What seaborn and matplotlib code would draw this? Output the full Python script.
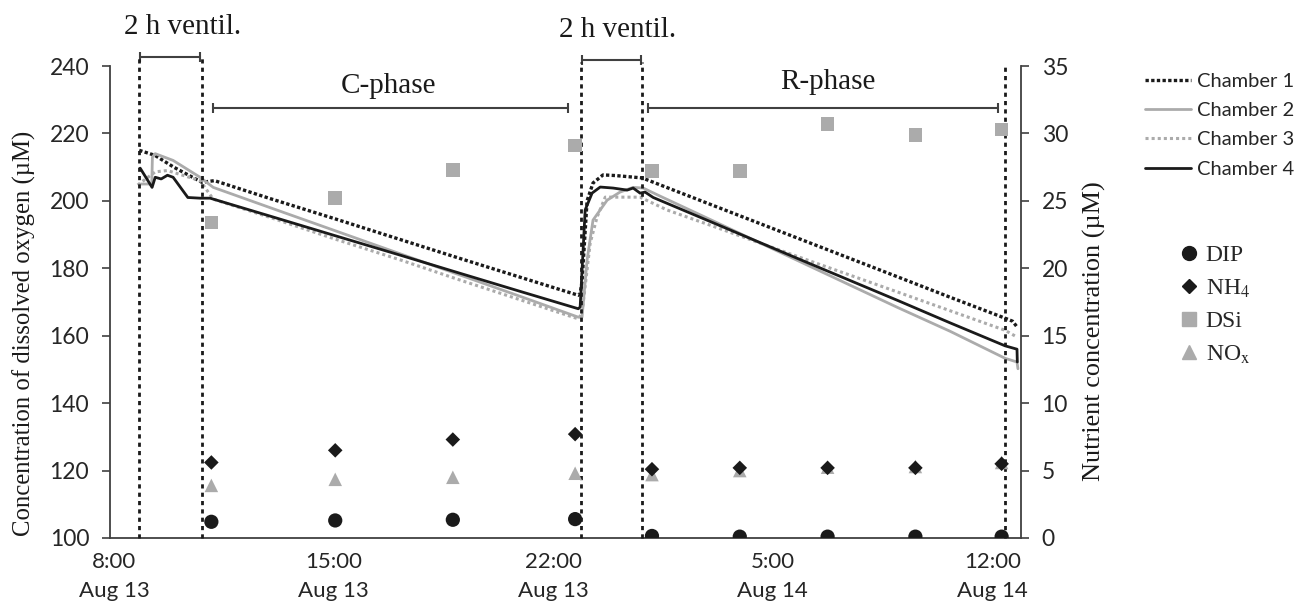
import matplotlib
matplotlib.use('Agg')
import matplotlib.pyplot as plt
from matplotlib.lines import Line2D
import seaborn as sns

# 时间单位: 小时 (从 Aug 13 00:00 起)
t_ch1 = [8.80, 9.3, 9.9, 10.6, 10.8, 11.2, 13.0, 15.0, 17.1, 19.0, 21.0, 22.8, 22.86, 22.92, 23.08,
         23.27, 23.59, 24.0, 24.84, 27.0, 30.0, 33.0, 34.66, 36.41, 36.65, 36.8]
o2_ch1 = [215, 213.5, 210, 206.5, 205.5, 206, 200.6, 194.8, 188.6, 183, 177.2, 172, 172.5, 176, 200,
          205.3, 207.7, 207.5, 206.8, 199, 188.2, 177.4, 171.4, 165.2, 164.3, 162.5]

t_ch2 = [8.85, 9.2, 9.22, 9.31, 9.88, 10.74, 11.16, 13.0, 15.0, 17.12, 19.0, 21.0, 22.8, 22.92, 23.08,
         23.27, 23.72, 24.13, 24.55, 24.87, 25.41, 27.0, 30.0, 33.0, 34.66, 36.41, 36.79, 36.82]
o2_ch2 = [205, 205, 213, 214, 212, 207, 204, 197.9, 191.3, 184.3, 178.1, 171.5, 165.5, 165.5, 182.4,
          194.3, 200.2, 202.6, 204, 203.8, 201.4, 194.5, 181.4, 168.3, 161.3, 153.3, 152.2, 150.2]

t_ch3 = [8.75, 9.31, 9.7, 10.74, 11.16, 13.0, 15.0, 17.12, 19.0, 21.0, 22.8, 22.92, 23.18, 23.40,
         23.66, 24.77, 25.63, 27.0, 30.0, 33.0, 34.66, 36.41, 36.79]
o2_ch3 = [204.7, 208.6, 209, 206, 200.5, 195, 188.8, 182.5, 176.6, 170.5, 165, 166.7, 187.5, 195.2,
          201.1, 201.1, 197.3, 192.8, 182.8, 172.9, 167.4, 161.6, 159.6]

t_ch4 = [8.83, 9.21, 9.31, 9.5, 9.7, 9.88, 10.35, 10.74, 11.06, 13.0, 15.0, 17.12, 19.0, 21.0, 22.8,
         22.86, 23.02, 23.24, 23.5, 23.91, 24.36, 24.55, 24.77, 24.93, 25.19, 27.0, 30.0, 33.0, 34.66,
         36.41, 36.79, 36.8]
o2_ch4 = [209.7, 204, 207, 206.5, 207.6, 207, 201, 200.8, 200.8, 195.4, 189.8, 183.9, 178.6, 173, 168,
          168.5, 197.3, 202.3, 204.1, 203.8, 203.2, 203.8, 202.3, 202.6, 201, 193.9, 182.1, 170.4, 163.8,
          157, 156, 152.2]

# 营养盐采样 (右轴)
sample_t = [11.1, 15.05, 18.8, 22.7, 25.15, 27.95, 30.75, 33.55, 36.3]
dip = [1.2, 1.3, 1.35, 1.4, 0.15, 0.1, 0.1, 0.1, 0.1]
nh4 = [5.6, 6.5, 7.3, 7.7, 5.1, 5.2, 5.2, 5.2, 5.5]
dsi = [23.4, 25.2, 27.3, 29.1, 27.2, 27.2, 30.7, 29.9, 30.3]
nox = [3.9, 4.35, 4.5, 4.8, 4.7, 5.0, 5.25, 5.3, 5.6]

tick_hours = [8, 15, 22, 29, 36]
tick_labels = ['8:00\nAug 13', '15:00\nAug 13', '22:00\nAug 13', '5:00\nAug 14', '12:00\nAug 14']

black = '#1a1a1a'
grey = '#ababab'
axcol = '#404040'

sns.set_style('white')
plt.rcParams['font.family'] = ['Lato', 'DejaVu Sans']
plt.rcParams['mathtext.fontset'] = 'stix'
serif = ['Liberation Serif', 'DejaVu Serif']

fig = plt.figure(figsize=(13.01, 6.04), dpi=100)
ax = fig.add_axes([0.0846, 0.1093, 0.7, 0.7814])
ax2 = ax.twinx()

# 溶解氧曲线
chambers = [
    ('Chamber 1', t_ch1, o2_ch1, black, (0, (1, 0.7)), 2.4),
    ('Chamber 2', t_ch2, o2_ch2, grey, '-', 2.0),
    ('Chamber 3', t_ch3, o2_ch3, grey, (0, (1, 1)), 2.2),
    ('Chamber 4', t_ch4, o2_ch4, black, '-', 2.0),
]
for name, t, v, c, ls, lw in chambers:
    sns.lineplot(x=t, y=v, ax=ax, color=c, linestyle=ls, lw=lw, sort=False, estimator=None)

# 营养盐散点
sns.scatterplot(x=sample_t, y=dsi, ax=ax2, marker='s', s=95, color=grey, edgecolor='none', zorder=3)
sns.scatterplot(x=sample_t, y=nox, ax=ax2, marker='^', s=95, color=grey, edgecolor='none', zorder=3)
sns.scatterplot(x=sample_t, y=nh4, ax=ax2, marker='D', s=55, color=black, edgecolor='none', zorder=4)
sns.scatterplot(x=sample_t, y=dip, ax=ax2, marker='o', s=105, color=black, edgecolor='none', zorder=4)

# 通气区间虚线
dot = (0, (1.5, 1.5))
for x, top in [(8.80, 243.3), (10.81, 243.3), (22.88, 241.2), (24.83, 241.2), (36.41, 240.3)]:
    ax.plot([x, x], [100, top], color=black, lw=2, linestyle=dot, clip_on=False, zorder=5)

# 区间括号
for x0, x1, y in [(8.83, 10.74, 242.7), (22.92, 24.80, 241.8), (11.16, 22.48, 227.5), (25.03, 36.19, 227.5)]:
    ax.plot([x0, x1], [y, y], color=axcol, lw=1.5, marker='|', markersize=7, mew=1.5, clip_on=False)

ax.text(10.17, 251.6, '2 h ventil.', ha='center', va='center', fontsize=21, family=serif, color=black)
ax.text(24.04, 250.7, '2 h ventil.', ha='center', va='center', fontsize=21, family=serif, color=black)
ax.text(16.74, 234.1, 'C-phase', ha='center', va='center', fontsize=21, family=serif, color=black)
ax.text(30.77, 235.3, 'R-phase', ha='center', va='center', fontsize=21, family=serif, color=black)

ax.set_xlim(7.87, 36.91)
ax.set_ylim(100, 240)
ax2.set_ylim(0, 35)
ax.set_yticks(range(100, 241, 20))
ax2.set_yticks(range(0, 36, 5))
ax.set_xticks(tick_hours)
ax.set_xticklabels(tick_labels, linespacing=1.55)

for a in (ax, ax2):
    for s in a.spines.values():
        s.set_visible(False)
    a.tick_params(colors=axcol, labelcolor='#262626', labelsize=16.5, width=1.2, length=6, direction='out')
ax.spines['left'].set_visible(True)
ax.spines['bottom'].set_visible(True)
ax2.spines['right'].set_visible(True)
for s in (ax.spines['left'], ax.spines['bottom'], ax2.spines['right']):
    s.set_color(axcol)
    s.set_linewidth(1.3)
ax.tick_params(axis='y', pad=9)
ax2.tick_params(axis='y', pad=9)
ax.tick_params(axis='x', pad=4, labelsize=16)
ax.grid(False)
ax2.grid(False)

ax.set_ylabel('Concentration of dissolved oxygen (µM)', fontsize=17.8, family=serif, color=black)
ax.yaxis.set_label_coords(-0.081, 0.434)
ax2.set_ylabel('Nutrient concentration (µM)', fontsize=18.9, family=serif, color=black)
ax2.yaxis.set_label_coords(1.068, 0.438)
ax.set_xlabel('')

# 图例
h1 = [Line2D([], [], color=c, linestyle=ls, lw=lw) for _, _, _, c, ls, lw in chambers]
l1 = [ch[0] for ch in chambers]
fig.legend(h1, l1, loc='upper left', bbox_to_anchor=(0.880, 0.880), frameon=False, fontsize=14.5,
           handlelength=2.3, handletextpad=0.3, labelspacing=0.61, borderpad=0, borderaxespad=0,
           labelcolor='#262626')

h2 = [Line2D([], [], color=black, marker='o', linestyle='none', markersize=10),
      Line2D([], [], color=black, marker='D', linestyle='none', markersize=7),
      Line2D([], [], color=grey, marker='s', linestyle='none', markersize=9.5),
      Line2D([], [], color=grey, marker='^', linestyle='none', markersize=10)]
l2 = ['DIP', 'NH$_4$', 'DSi', 'NO$_\\mathrm{x}$']
fig.legend(h2, l2, loc='upper left', bbox_to_anchor=(0.905, 0.595), frameon=False,
           prop={'family': serif, 'size': 17}, handlelength=1.0, handletextpad=0.2,
           labelspacing=0.47, borderpad=0, borderaxespad=0)

plt.savefig('out.png', dpi=100)
